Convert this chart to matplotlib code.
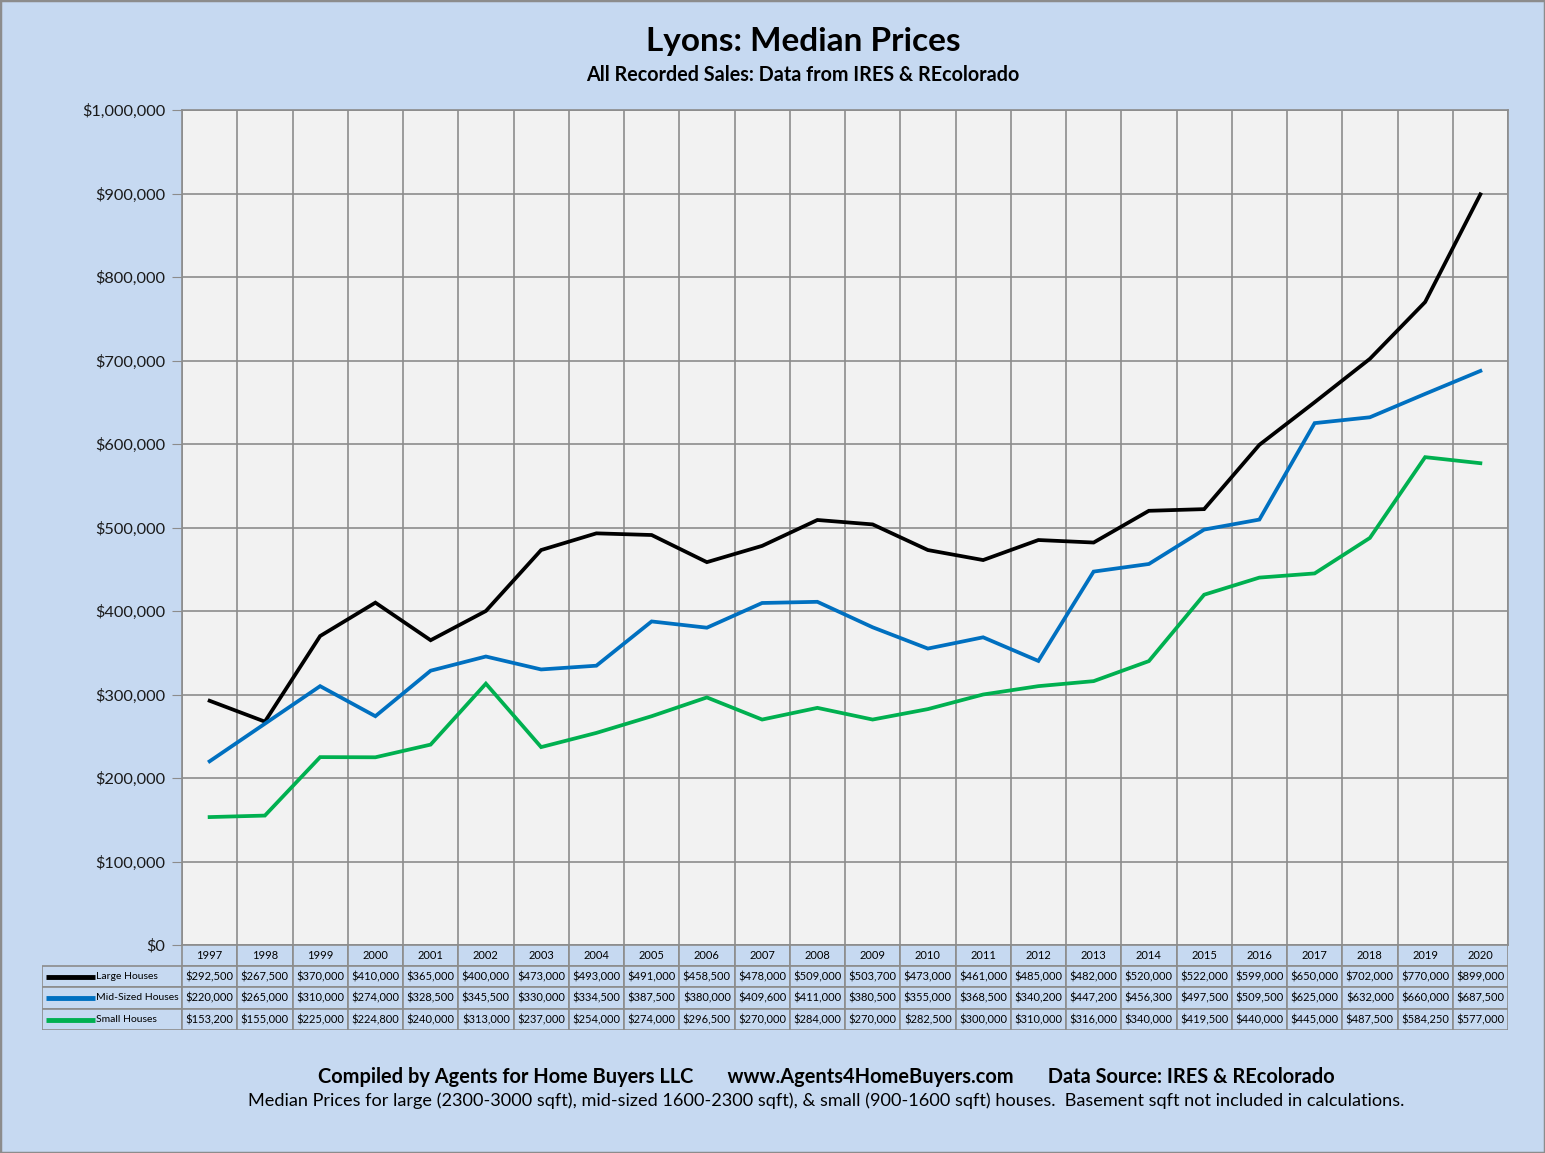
import matplotlib.pyplot as plt
from matplotlib.patches import Rectangle
from matplotlib.ticker import FuncFormatter

years = [str(y) for y in range(1997, 2021)]
large = [292500, 267500, 370000, 410000, 365000, 400000, 473000, 493000, 491000, 458500,
         478000, 509000, 503700, 473000, 461000, 485000, 482000, 520000, 522000, 599000,
         650000, 702000, 770000, 899000]
mid = [220000, 265000, 310000, 274000, 328500, 345500, 330000, 334500, 387500, 380000,
       409600, 411000, 380500, 355000, 368500, 340200, 447200, 456300, 497500, 509500,
       625000, 632000, 660000, 687500]
small = [153200, 155000, 225000, 224800, 240000, 313000, 237000, 254000, 274000, 296500,
         270000, 284000, 270000, 282500, 300000, 310000, 316000, 340000, 419500, 440000,
         445000, 487500, 584250, 577000]
series = [('Large Houses', large, '#000000'),
          ('Mid-Sized Houses', mid, '#0070c0'),
          ('Small Houses', small, '#00b050')]

plt.rcParams['font.family'] = ['Lato', 'DejaVu Sans']
W, H = 1545, 1153
bg = '#c6d9f1'
gridc = '#8c8c8c'

fig = plt.figure(figsize=(W / 100, H / 100), dpi=100, facecolor=bg)
fig.add_artist(Rectangle((0, 0), 1, 1, transform=fig.transFigure, fill=False,
                         edgecolor='#8c8c8c', linewidth=2.5))

def fx(x):
    return x / W

def fy(y):
    return 1 - y / H

# main plot area
L, R, T, B = 182, 1508, 110, 945
ax = fig.add_axes([fx(L), fy(B), fx(R - L), (B - T) / H])
ax.set_facecolor('#f2f2f2')
xs = range(len(years))
for name, vals, col in series:
    ax.plot(xs, vals, color=col, linewidth=2.7, solid_joinstyle='miter')
ax.set_xlim(-0.5, len(years) - 0.5)
ax.set_ylim(0, 1000000)
ax.set_yticks(range(0, 1000001, 100000))
ax.yaxis.set_major_formatter(FuncFormatter(lambda v, p: '${:,.0f}'.format(v)))
ax.set_xticks([i - 0.5 for i in range(len(years) + 1)])
ax.set_xticklabels([])
ax.tick_params(axis='x', length=0)
ax.tick_params(axis='y', length=7, color=gridc, labelsize=11.8, pad=5, labelcolor='#1a1a1a')
ax.grid(True, color=gridc, linewidth=1.2)
ax.set_axisbelow(True)
for s in ax.spines.values():
    s.set_color(gridc)
    s.set_linewidth(1.2)

# data table under the chart
TL, TT, TB = 42, 945, 1030
tax = fig.add_axes([fx(TL), fy(TB), fx(R - TL), (TB - TT) / H])
tax.set_xlim(TL, R)
tax.set_ylim(TB, TT)
tax.axis('off')
cw = (R - L) / len(years)
rows = [TT, 966, 987, 1009, 1030]
ec = '#8c8c8c'
tsize = 8
for i, yr in enumerate(years):
    x0 = L + i * cw
    tax.add_patch(Rectangle((x0, rows[0]), cw, rows[1] - rows[0], facecolor=bg,
                            edgecolor=ec, linewidth=1.2))
    tax.text(x0 + cw / 2, (rows[0] + rows[1]) / 2, yr, ha='center', va='center', fontsize=tsize)
for r, (name, vals, col) in enumerate(series):
    y0, y1 = rows[r + 1], rows[r + 2]
    tax.add_patch(Rectangle((TL, y0), L - TL, y1 - y0, facecolor=bg, edgecolor=ec, linewidth=1.2))
    tax.plot([46, 95], [(y0 + y1) / 2] * 2, color=col, linewidth=3.5, solid_capstyle='butt')
    tax.text(96, (y0 + y1) / 2, name, ha='left', va='center', fontsize=7.5)
    for i, v in enumerate(vals):
        x0 = L + i * cw
        tax.add_patch(Rectangle((x0, y0), cw, y1 - y0, facecolor=bg, edgecolor=ec, linewidth=1.2))
        tax.text(x0 + cw / 2, (y0 + y1) / 2, '${:,.0f}'.format(v), ha='center', va='center',
                 fontsize=tsize)

# titles and footer
fig.text(fx(803), fy(41), 'Lyons: Median Prices', ha='center', va='center',
         fontsize=24, fontweight='bold')
fig.text(fx(803), fy(75), 'All Recorded Sales: Data from IRES & REcolorado', ha='center',
         va='center', fontsize=14.2, fontweight='bold')
fig.text(fx(826), fy(1077),
         'Compiled by Agents for Home Buyers LLC       www.Agents4HomeBuyers.com       '
         'Data Source: IRES & REcolorado',
         ha='center', va='center', fontsize=14.4, fontweight='bold')
fig.text(fx(826), fy(1101),
         'Median Prices for large (2300-3000 sqft), mid-sized 1600-2300 sqft), & small '
         '(900-1600 sqft) houses.  Basement sqft not included in calculations.',
         ha='center', va='center', fontsize=13.1)

fig.savefig('out.png', dpi=100, facecolor=bg)
